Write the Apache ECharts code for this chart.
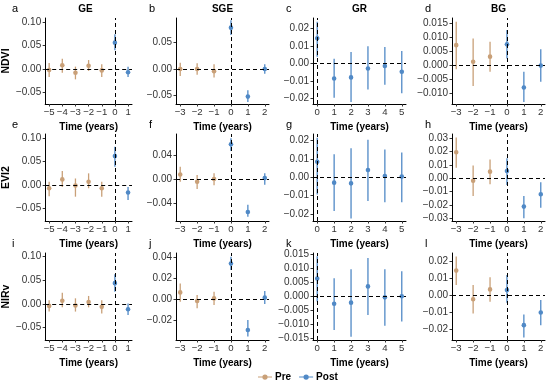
<!DOCTYPE html>
<html><head><meta charset="utf-8">
<script src="https://cdn.jsdelivr.net/npm/echarts@6/dist/echarts.min.js"></script>
<style>html,body{margin:0;padding:0;background:#fff}#c{width:550px;height:384px}</style>
</head><body><div id="c"></div>
<script>
// ---- data: [time, estimate, lower, upper] ----
const a_pre = [[-5,-0.002,-0.017,0.013],[-4,0.008,-0.008,0.022],[-3,-0.008,-0.022,0.005],[-2,0.007,-0.004,0.019],[-1,-0.003,-0.017,0.010]];
const a_post = [[0,0.056,0.040,0.074],[1,-0.007,-0.017,0.005]];
const b_pre = [[-3,0.000,-0.013,0.012],[-2,0.000,-0.011,0.011],[-1,-0.004,-0.016,0.009]];
const b_post = [[0,0.078,0.064,0.092],[1,-0.052,-0.062,-0.040],[2,0.000,-0.009,0.009]];
const c_pre = [];
const c_post = [[0,0.0145,0.0040,0.0240],[1,-0.0084,-0.0194,0.0029],[2,-0.0078,-0.0219,0.0067],[3,-0.0027,-0.0147,0.0099],[4,-0.0013,-0.0120,0.0095],[5,-0.0046,-0.0168,0.0072]];
const d_pre = [[-3,0.0071,-0.0015,0.0155],[-2,0.0012,-0.0075,0.0095],[-1,0.0030,-0.0024,0.0083]];
const d_post = [[0,0.0074,0.0023,0.0125],[1,-0.0080,-0.0132,-0.0024],[2,-0.0002,-0.0060,0.0056]];
const e_pre = [[-5,-0.007,-0.024,0.007],[-4,0.012,-0.004,0.030],[-3,-0.001,-0.025,0.014],[-2,0.007,-0.007,0.025],[-1,-0.007,-0.025,0.007]];
const e_post = [[0,0.062,0.039,0.082],[1,-0.016,-0.032,-0.004]];
const f_pre = [[-3,0.008,-0.004,0.021],[-2,-0.004,-0.016,0.007],[-1,0.0005,-0.010,0.010]];
const f_post = [[0,0.058,0.047,0.068],[1,-0.054,-0.062,-0.042],[2,0.002,-0.009,0.010]];
const g_pre = [];
const g_post = [[0,0.0085,-0.0093,0.0216],[1,-0.0029,-0.0184,0.0125],[2,-0.0033,-0.0224,0.0158],[3,0.0040,-0.0129,0.0204],[4,0.0007,-0.0136,0.0151],[5,0.0004,-0.0136,0.0135]];
const h_pre = [[-3,0.0195,0.0080,0.0305],[-2,-0.0018,-0.0133,0.0095],[-1,0.0050,-0.0045,0.0140]];
const h_post = [[0,0.0055,-0.0050,0.0150],[1,-0.0212,-0.0300,-0.0133],[2,-0.0120,-0.0220,-0.0030]];
const i_pre = [[-5,-0.004,-0.016,0.008],[-4,0.007,-0.007,0.024],[-3,-0.003,-0.016,0.012],[-2,0.004,-0.007,0.017],[-1,-0.006,-0.020,0.008]];
const i_post = [[0,0.044,0.026,0.063],[1,-0.011,-0.023,0.001]];
const j_pre = [[-3,0.0063,-0.0025,0.0148],[-2,-0.0019,-0.0088,0.0038],[-1,0.0006,-0.0057,0.0069]];
const j_post = [[0,0.0337,0.0274,0.0400],[1,-0.0293,-0.0356,-0.0198],[2,0.0013,-0.0047,0.0076]];
const k_pre = [];
const k_post = [[0,0.0063,-0.0019,0.0142],[1,-0.0027,-0.0120,0.0064],[2,-0.0023,-0.0144,0.0096],[3,0.0035,-0.0067,0.0136],[4,-0.0004,-0.0105,0.0096],[5,0.0000,-0.0090,0.0089]];
const l_pre = [[-3,0.0143,0.0059,0.0225],[-2,-0.0025,-0.0108,0.0059],[-1,0.0033,-0.0039,0.0104]];
const l_post = [[0,0.0029,-0.0045,0.0118],[1,-0.0176,-0.0249,-0.0114],[2,-0.0102,-0.0176,-0.0029]];

// ---- labels / ticks ----
const columnTitles = ['GE','SGE','GR','BG'];
const rowTitles = ['NDVI','EVI2','NIRv'];
const panelLetters = ['a','b','c','d','e','f','g','h','i','j','k','l'];
const xTicksCol = [[-5,-4,-3,-2,-1,0,1],[-3,-2,-1,0,1,2],[0,1,2,3,4,5],[-3,-2,-1,0,1,2]];
const yTicks = [
  [-0.05,0,0.05,0.10],[-0.05,0,0.05],[-0.02,-0.01,0,0.01,0.02],[-0.010,-0.005,0,0.005,0.010,0.015],
  [-0.05,0,0.05,0.10],[-0.04,0,0.04],[-0.02,-0.01,0,0.01,0.02],[-0.03,-0.02,-0.01,0,0.01,0.02,0.03],
  [-0.05,0,0.05,0.10],[-0.02,0,0.02,0.04],[-0.015,-0.010,-0.005,0,0.005,0.010,0.015],[-0.02,-0.01,0,0.01,0.02]
];
const yDecimals = [2,2,2,3, 2,2,2,2, 2,2,3,2];
const yRange = [
  [-0.0744,0.1084],[-0.066,0.0962],[-0.0230,0.0261],[-0.0139,0.0168],
  [-0.0771,0.1093],[-0.069,0.075],[-0.0238,0.0236],[-0.032,0.0332],
  [-0.076,0.1077],[-0.0388,0.0436],[-0.0156,0.0154],[-0.0263,0.0246]
];
const xRangeCol = [[-5.3,1.3],[-3.25,2.25],[-0.25,5.25],[-3.25,2.25]];
const preData = [a_pre,b_pre,c_pre,d_pre,e_pre,f_pre,g_pre,h_pre,i_pre,j_pre,k_pre,l_pre];
const postData = [a_post,b_post,c_post,d_post,e_post,f_post,g_post,h_post,i_post,j_post,k_post,l_post];

// ---- style ----
const PRE = '#C9A078', POST = '#5089C6';
const FONT = 'Liberation Sans, Arial, sans-serif';
const colLeft = [39,176,313,452], colW = 93;
const rowTop = [18,134,253], rowH = [86,87,87];

const minus = s => s.replace('-', '\u2212');

const grids=[], xAxes=[], yAxes=[], series=[], graphics=[];
function renderBar(color){
  return function(params, api){
    const x=api.value(0), y=api.value(1), lo=api.value(2), hi=api.value(3);
    const p=api.coord([x,y]), pl=api.coord([x,lo]), ph=api.coord([x,hi]);
    return {type:'group', children:[
      {type:'line', shape:{x1:p[0],y1:pl[1],x2:p[0],y2:ph[1]}, style:{stroke:color,lineWidth:1.3}},
      {type:'circle', shape:{cx:p[0],cy:p[1],r:2.3}, style:{fill:color}}
    ]};
  };
}
for(let r=0;r<3;r++){
  for(let c=0;c<4;c++){
    const k=r*4+c;
    grids.push({left:colLeft[c], top:rowTop[r], width:colW, height:rowH[r], containLabel:false});
    xAxes.push({type:'value', gridIndex:k, min:xRangeCol[c][0], max:xRangeCol[c][1],
      splitLine:{show:false},
      axisLine:{onZero:false, lineStyle:{color:'#000', width:1}},
      axisTick:{customValues:xTicksCol[c], length:2.5, lineStyle:{color:'#333'}},
      axisLabel:{customValues:xTicksCol[c], formatter:v=>minus(String(v)), color:'#333', fontSize:9.6, fontFamily:FONT, margin:3},
      name:'Time (years)', nameLocation:'middle', nameGap:18,
      nameTextStyle:{fontWeight:'bold', fontSize:10, fontFamily:FONT, color:'#000'}
    });
    yAxes.push({type:'value', gridIndex:k, min:yRange[k][0], max:yRange[k][1],
      splitLine:{show:false},
      axisLine:{onZero:false, lineStyle:{color:'#000', width:1}},
      axisTick:{customValues:yTicks[k], length:2.5, lineStyle:{color:'#333'}},
      axisLabel:{customValues:yTicks[k], formatter:v=>minus(v.toFixed(yDecimals[k])), color:'#333', fontSize:10, fontFamily:FONT, margin:4},
      name: c===0 ? rowTitles[r] : '', nameLocation:'middle', nameGap:22, nameRotate:90,
      nameTextStyle:{fontWeight:'bold', fontSize:10.5, fontFamily:FONT, color:'#000'}
    });
    series.push({type:'line', xAxisIndex:k, yAxisIndex:k, data:[], silent:true, z:1,
      markLine:{silent:true, symbol:'none', label:{show:false},
        lineStyle:{color:'#000', type:[4,3], width:1},
        data:[{xAxis:0},{yAxis:0}], animation:false}});
    if(preData[k].length) series.push({type:'custom', name:'Pre', xAxisIndex:k, yAxisIndex:k, data:preData[k],
      itemStyle:{color:PRE}, renderItem:renderBar(PRE), z:3});
    series.push({type:'custom', name:'Post', xAxisIndex:k, yAxisIndex:k, data:postData[k],
      itemStyle:{color:POST}, renderItem:renderBar(POST), z:3});
    graphics.push({type:'text', left: colLeft[c]-27, top: rowTop[r]-15,
      style:{text:panelLetters[k], font:'11px '+FONT, fill:'#000'}});
    if(r===0) graphics.push({type:'text', x: colLeft[c]+colW/2, y: 9,
      style:{text:columnTitles[c], font:'bold 10px '+FONT, fill:'#000', align:'center', verticalAlign:'middle'}});
  }
}
const chart = echarts.init(document.getElementById('c'), null, {renderer:'canvas'});
chart.setOption({
  animation:false,
  backgroundColor:'#fff',
  grid:grids, xAxis:xAxes, yAxis:yAxes, series:series, graphic:graphics,
  legend:{data:['Pre','Post'], left:253, top:367, itemWidth:14, itemHeight:6, itemGap:8,
    icon:'path://M0,2.4 L16,2.4 L16,3.6 L0,3.6 Z M8,0 A3,3 0 1,1 7.99,0 Z',
    textStyle:{fontWeight:'bold', fontSize:10, fontFamily:FONT, color:'#000', padding:[0,0,0,-2]}}
});
</script></body></html>
